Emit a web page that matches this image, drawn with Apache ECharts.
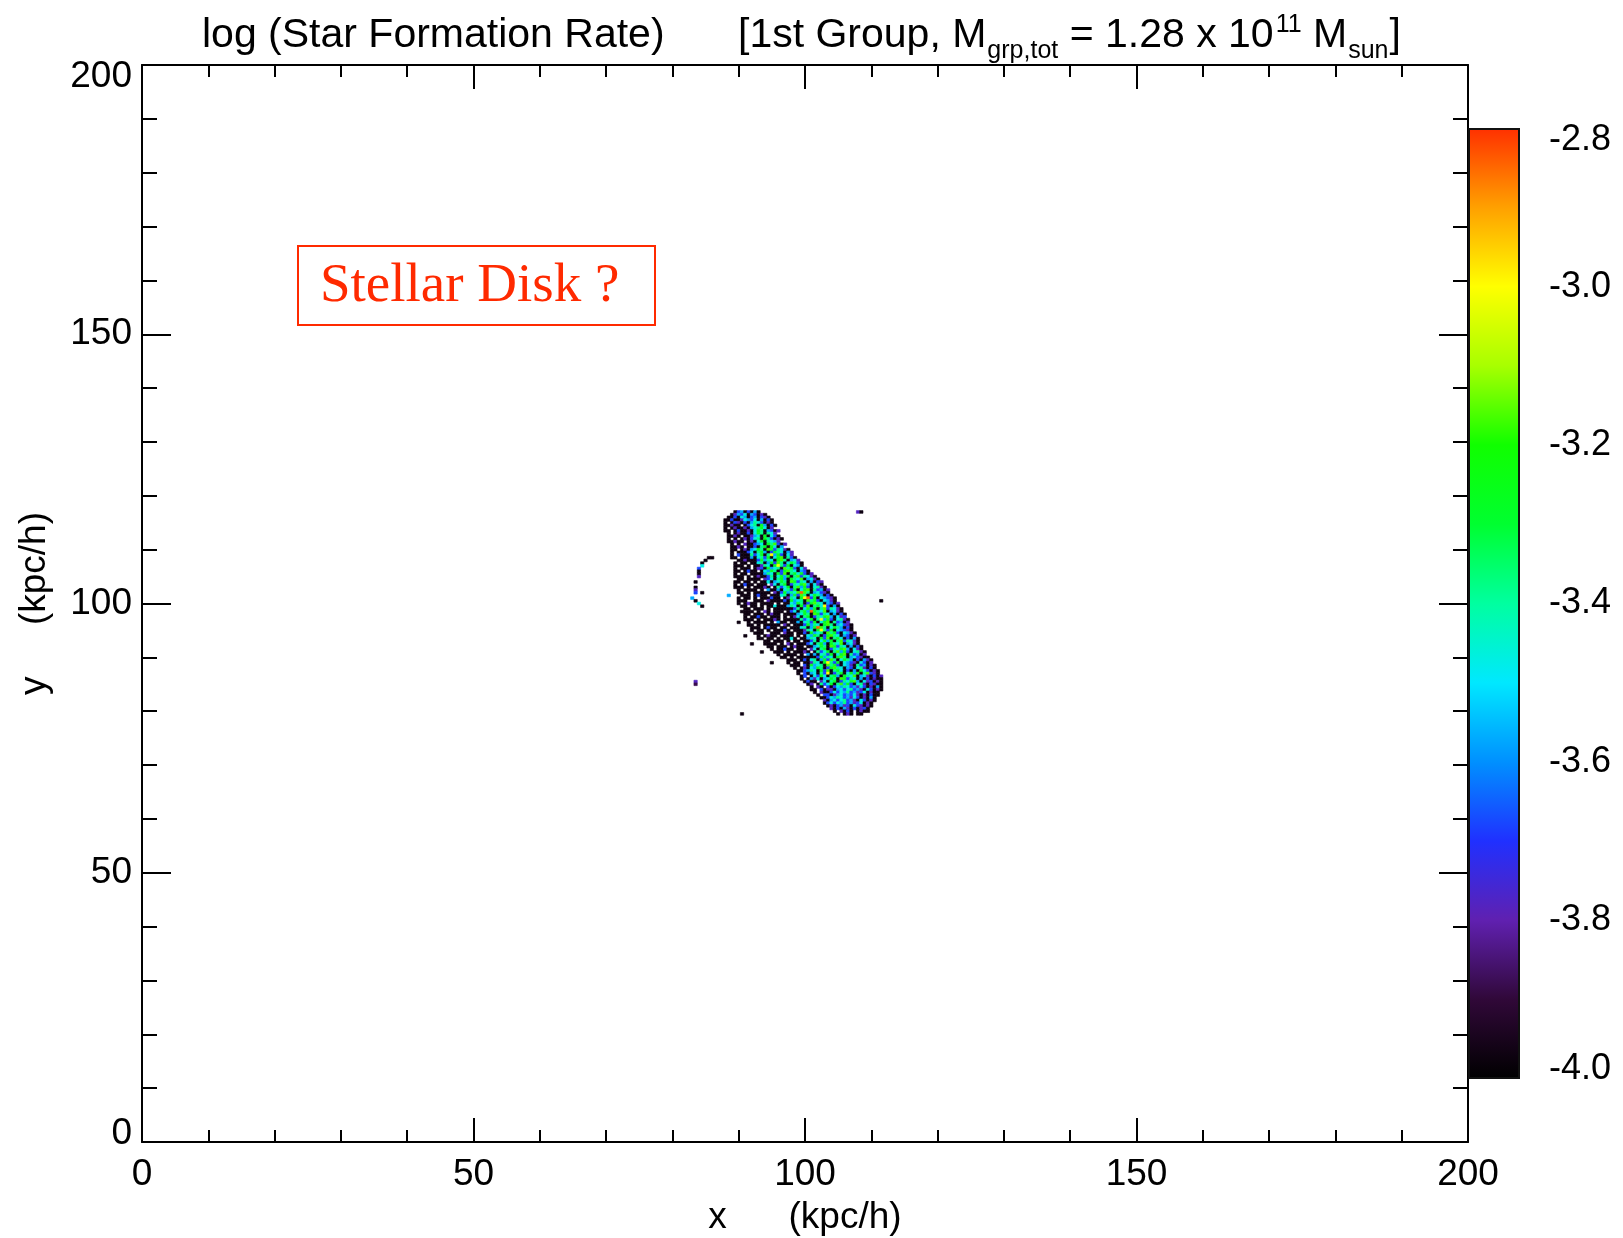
<!DOCTYPE html>
<html><head><meta charset="utf-8">
<script src="https://cdn.jsdelivr.net/npm/echarts@6/dist/echarts.min.js"></script>
<style>html,body{margin:0;padding:0;background:#fff;}#chart{width:1623px;height:1238px;}</style>
</head><body><div id="chart"></div>
<script>
// ---------------- data ----------------
const axisRange = [0, 200];
const axisTickStep = 50;
const colorbarRange = [-4.0, -2.8];
const colorbarTickStep = 0.2;
const colorbarStops = ['#000000', '#300838', '#6020b0', '#2030ff', '#0090ff', '#00e8ff',
  '#00ffa0', '#00ff30', '#10ff00', '#a8ff00', '#ffff00', '#ffa000', '#ff3000'];

// pixel value levels (log SFR) keyed by the characters used in the row strings
const levelKeys = '0123456789r';
const levelValues = [-3.97, -3.88, -3.78, -3.68, -3.57, -3.47, -3.38, -3.28, -3.17, -3.0, -2.84];

const cellStep = 0.5;      // kpc/h per map pixel
const blobY0 = 117.0;      // y of the first row, rows go downward by cellStep
const blobRowStart = [89.5, 89.0, 88.5, 88.0, 88.0, 88.0, 88.0, 88.0, 88.5, 88.5, 88.5, 88.5,
  89.0, 89.0, 89.0, 89.0, 89.0, 89.0, 89.5, 89.5, 89.5, 89.5, 89.5, 89.5, 89.5, 89.5,
  89.5, 89.5, 89.5, 90.0, 90.0, 90.0, 90.0, 90.0, 90.0, 90.5, 90.5, 90.5, 91.0, 91.0, 91.0,
  91.5, 91.5, 91.5, 92.0, 92.5, 93.0, 93.0, 93.5, 94.0, 94.5, 95.0, 95.5, 96.0, 96.5,
  97.0, 97.5, 98.0, 98.5, 99.0, 99.0, 99.5, 99.5, 100.0, 100.5, 101.0, 101.0, 101.5, 102.0,
  102.5, 103.0, 103.0, 103.5, 104.0, 104.5, 105.0];
const blobRowCells = [
  '03403040',
  '02435043020',
  '0030540340320',
  '003002543504030',
  '0.0320304653020',
  '00200.0356074030',
  '0.0200204567502',
  '00.03002057604302',
  '0.0200305760652.',
  '0020.00245070530',
  '0.0.0203560763020',
  '00200.0205706542.',
  '0.0.2003450768302',
  '0020.00306707504.',
  '00.020457608736520',
  '0.00035067403765042',
  '0.30006357069473052',
  '00.00040563705780630',
  '.0020003746507860452',
  '0.00.0056047386057630',
  '000.0.002650796370540',
  '0.000.0230745608673052',
  '00.0300.054760378650430',
  '0.00.0000465073806757302',
  '000.0.0200360574706836520',
  '.00.0000.23506740765804520',
  '00.00.0.0050457608736504032',
  '0.0300.000.2506703657840520',
  '000.0.00020.0635706847305620',
  '0.0000.0.4004056370578063402',
  '00.0.00000.20374658r86045320',
  '.000.0300.0005604738605764030',
  '0.00.0.000300.0265079r37054320',
  '000..000.200003074560867305420',
  '0.0200.0000.0.00547603786504302',
  '00.00.0.0050004650738067593040',
  '.00.000.0.000000360574706836520',
  '0000.0.20.000.0350674r765804520',
  '00.000.0200.0000457608736504030',
  '0.00300.000.0.02506703657840523',
  '000.0.00020.00000635706947305620',
  '0.0000.0.400.004056370578063402',
  '00.0.00000.20.000374650786045320',
  '.000.0300.00.00056047r8605764030',
  '0.00.0.00030.000265079637054320',
  '000..000.200.003074560867305420',
  '0.0200.0000.0.0547603786504302',
  '00.00.0.0050.004650738067503040',
  '.00.000.0.00.00360574706836520',
  '0000.0.20.0003506740765804520',
  '00.000.0200.00457608736504030',
  '0.00300.000.2506703657840520',
  '000.0.00020.0635706847305620',
  '0.0000.0.404056370578063402',
  '00.0.0000003746507860453200',
  '.000.0305604738605764030420',
  '0.00.002650796370543205302',
  '000.3074560867305420634020',
  '0.02054760378650430562030',
  '0034650738067503040753020',
  '0.30450639036705747068320',
  '03.0537506740765804520302',
  '0.04250457608736504030200',
  '0300.2506703657840523020',
  '02.06357068473056203200',
  '0.20.30354653425302040',
  '00.3022045356342053020',
  '0.200353546342350200',
  '0.33024534352020300',
  '00354653425302040',
  '2045356342053020',
  '035354634235020',
  '02034230532020',
  '203042030230',
  '0.2030.0200',
  '0.020.00'
];
// small detached pixels: [x, y, level key]
const isolatedCells = [
  [85.5, 108.5, '0'], [86.0, 108.5, '0'], [85.0, 108.0, '0'], [84.5, 107.5, '0'],
  [84.5, 107.0, '5'], [84.0, 106.5, '3'], [84.0, 106.0, '0'], [84.0, 105.5, '0'],
  [84.0, 105.0, '2'], [83.5, 104.0, '0'], [83.5, 103.0, '0'], [83.5, 102.5, '2'],
  [83.5, 102.0, '3'], [84.5, 102.0, '0'], [83.0, 101.0, '4'], [83.5, 100.5, '0'],
  [84.0, 100.0, '5'], [84.5, 99.5, '0'],
  [108.0, 117.0, '2'], [108.5, 117.0, '0'],
  [111.5, 100.5, '0'],
  [83.5, 85.5, '2'], [83.5, 85.0, '1'],
  [90.5, 79.5, '0'],
  [88.5, 101.5, '4'],
  [90.0, 96.5, '0'], [91.0, 94.0, '0'], [92.0, 92.5, '0'], [93.5, 91.0, '0'], [95.0, 89.0, '0']
];

// ---------------- build series data ----------------
const heatData = [];
blobRowCells.forEach((row, i) => {
  const y = blobY0 - i * cellStep;
  for (let j = 0; j < row.length; j++) {
    const k = levelKeys.indexOf(row[j]);
    if (k >= 0) heatData.push([blobRowStart[i] + j * cellStep, y, levelValues[k]]);
  }
});
isolatedCells.forEach(c => heatData.push([c[0], c[1], levelValues[levelKeys.indexOf(c[2])]]));

const FONT = 'Liberation Sans';
const black = '#000';

// ---------------- title layout (sequential pieces with sub/superscripts) ----------------
const measureCtx = document.createElement('canvas').getContext('2d');
function textWidth(t, size) { measureCtx.font = size + 'px "' + FONT + '"'; return measureCtx.measureText(t).width; }
const MAIN = 41, SMALL = 25;
const titlePieces = [
  { t: '[1st Group, M', s: MAIN, y: 36, gap: 1 },
  { t: 'grp,tot', s: SMALL, y: 51, gap: 0 },
  { t: ' = 1.28 x 10', s: MAIN, y: 36, gap: 2 },
  { t: '11', s: SMALL, y: 25, gap: 0 },
  { t: ' M', s: MAIN, y: 36, gap: 1 },
  { t: 'sun', s: SMALL, y: 51, gap: 1 },
  { t: ']', s: MAIN, y: 36, gap: 0 }
];
const titleGraphics = [
  { type: 'text', x: 202, y: 36, silent: true, style: { text: 'log (Star Formation Rate)', fontSize: MAIN, fontFamily: FONT, fill: black, align: 'left', verticalAlign: 'middle' } }
];
let tx = 738;
titlePieces.forEach(p => {
  titleGraphics.push({ type: 'text', x: tx, y: p.y, silent: true,
    style: { text: p.t, fontSize: p.s, fontFamily: FONT, fill: black, align: 'left', verticalAlign: 'middle' } });
  tx += textWidth(p.t, p.s) + p.gap;
});

function mainAxis(opts) {
  return Object.assign({
    type: 'value', min: axisRange[0], max: axisRange[1], interval: axisTickStep,
    axisLine: { show: true, onZero: false, lineStyle: { color: black, width: 2 } },
    axisTick: { show: true, inside: true, length: opts.tickLen, lineStyle: { color: black, width: 2 } },
    minorTick: { show: true, splitNumber: 5, length: opts.minorLen, lineStyle: { color: black, width: 2 } },
    splitLine: { show: false }, minorSplitLine: { show: false },
    axisLabel: { show: false }
  }, opts.extra || {});
}

const chart = echarts.init(document.getElementById('chart'), null, { renderer: 'canvas' });

const option = {
  animation: false,
  backgroundColor: '#fff',
  grid: [
    { left: 142, top: 65, width: 1326, height: 1077, show: false, containLabel: false, outerBoundsMode: 'none' },
    { left: 1469, top: 129, width: 50, height: 949, show: false, containLabel: false, outerBoundsMode: 'none' }
  ],
  xAxis: [
    mainAxis({ tickLen: 24, minorLen: 12, extra: {
      gridIndex: 0, position: 'bottom',
      axisLabel: { show: true, fontSize: 37, fontFamily: FONT, color: black, margin: 14, showMinLabel: true, showMaxLabel: true },
      name: 'x      (kpc/h)', nameLocation: 'middle', nameGap: 57, nameMoveOverlap: false,
      nameTextStyle: { fontSize: 37, fontFamily: FONT, color: black }
    } }),
    mainAxis({ tickLen: 24, minorLen: 12, extra: { gridIndex: 0, position: 'top' } }),
    { gridIndex: 1, type: 'value', min: 0, max: 1, show: false }
  ],
  yAxis: [
    mainAxis({ tickLen: 29, minorLen: 15, extra: {
      gridIndex: 0, position: 'left',
      axisLabel: {
        show: true, fontSize: 37, fontFamily: FONT, color: black, margin: 10,
        showMinLabel: true, showMaxLabel: true,
        formatter: v => v === axisRange[1] ? '{hi|' + v + '}' : (v === axisRange[0] ? '{lo|' + v + '}' : '{n|' + v + '}'),
        rich: {
          n: { fontSize: 37, fontFamily: FONT, color: black },
          hi: { fontSize: 37, fontFamily: FONT, color: black, padding: [23, 0, 0, 0] },
          lo: { fontSize: 37, fontFamily: FONT, color: black, padding: [0, 0, 16, 0] }
        }
      },
      name: 'y     (kpc/h)', nameLocation: 'middle', nameRotate: 90, nameGap: 89, nameMoveOverlap: false,
      nameTextStyle: { fontSize: 37, fontFamily: FONT, color: black }
    } }),
    mainAxis({ tickLen: 29, minorLen: 15, extra: { gridIndex: 0, position: 'right' } }),
    {
      gridIndex: 1, type: 'value', position: 'right',
      min: colorbarRange[0], max: colorbarRange[1], interval: colorbarTickStep,
      axisLine: { show: true, onZero: false, lineStyle: { color: '#111', width: 2 } },
      axisTick: { show: true, inside: true, length: 12, lineStyle: { color: '#111', width: 2 } },
      minorTick: { show: true, splitNumber: 2, length: 12, lineStyle: { color: '#111', width: 2 } },
      splitLine: { show: false }, minorSplitLine: { show: false },
      axisLabel: {
        show: true, margin: 30, fontSize: 36, fontFamily: FONT, color: black,
        showMinLabel: true, showMaxLabel: true,
        formatter: v => {
          const s = v.toFixed(1);
          if (Math.abs(v - colorbarRange[1]) < 1e-6) return '{hi|' + s + '}';
          if (Math.abs(v - colorbarRange[0]) < 1e-6) return '{lo|' + s + '}';
          return '{n|' + s + '}';
        },
        rich: {
          n: { fontSize: 36, fontFamily: FONT, color: black },
          hi: { fontSize: 36, fontFamily: FONT, color: black, padding: [23, 0, 0, 0] },
          lo: { fontSize: 36, fontFamily: FONT, color: black, padding: [0, 0, 18, 0] }
        }
      }
    }
  ],
  visualMap: {
    type: 'continuous', show: false, seriesIndex: 0, dimension: 2,
    min: colorbarRange[0], max: colorbarRange[1],
    inRange: { color: colorbarStops }
  },
  series: [
    {
      type: 'custom', name: 'logSFR', xAxisIndex: 0, yAxisIndex: 0,
      dimensions: ['x', 'y', 'v'], encode: { x: 0, y: 1 },
      clip: true,
      data: heatData,
      renderItem: (params, api) => {
        const x = api.value(0), y = api.value(1), h = cellStep / 2;
        const a = api.coord([x - h, y + h]);
        const b = api.coord([x + h, y - h]);
        const c = api.visual('color');
        return { type: 'rect', shape: { x: a[0], y: a[1], width: b[0] - a[0], height: b[1] - a[1] },
          style: { fill: c, stroke: c, lineWidth: 0.6 } };
      }
    },
    {
      type: 'custom', name: 'colorbar', xAxisIndex: 2, yAxisIndex: 2,
      dimensions: ['x0', 'y0', 'x1', 'y1'], encode: { x: [0, 2], y: [1, 3] },
      data: [[0, colorbarRange[0], 1, colorbarRange[1]]],
      renderItem: (params, api) => {
        const p0 = api.coord([api.value(0), api.value(1)]);
        const p1 = api.coord([api.value(2), api.value(3)]);
        const stops = colorbarStops.map((c, i) => ({ offset: i / (colorbarStops.length - 1), color: c }));
        return { type: 'rect',
          shape: { x: p0[0], y: p1[1], width: p1[0] - p0[0], height: p0[1] - p1[1] },
          style: { fill: new echarts.graphic.LinearGradient(0, 1, 0, 0, stops), stroke: '#111', lineWidth: 2 } };
      }
    }
  ],
  graphic: titleGraphics.concat([
    { type: 'rect', silent: true, shape: { x: 298, y: 246, width: 357, height: 79 }, style: { fill: 'transparent', stroke: '#ff2a00', lineWidth: 2 } },
    { type: 'text', x: 320, y: 287, silent: true, style: { text: 'Stellar Disk ?', fontSize: 55, fontFamily: 'Liberation Serif', fill: '#ff2a00', align: 'left', verticalAlign: 'middle' } }
  ])
};
chart.setOption(option);
</script>
</body></html>
